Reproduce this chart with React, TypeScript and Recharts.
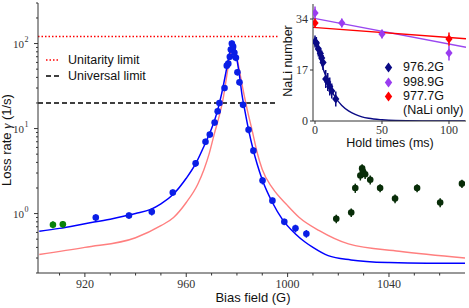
import React from 'react';
import {
  ComposedChart, Line, Scatter, XAxis, YAxis, ErrorBar, ReferenceLine,
} from 'recharts';

// main panel: loss rate vs bias field
const BLUE_X = [924.3, 937.4, 946.4, 954.7, 963.7, 967.6, 969.3, 971.2, 972.4, 973.1, 975.1, 976.0, 976.6, 977.2, 977.6, 978.0, 978.5, 979.0, 979.6, 980.2, 981.0, 982.4, 984.6, 986.5, 990.1, 994.0, 998.7, 1003.1, 1007.4];
const BLUE_Y = [0.9, 0.95, 1.05, 1.77, 3.9, 7.0, 8.5, 11.8, 16, 20, 30, 55, 58, 70, 85, 100, 92, 78, 68, 46, 35, 19, 9.7, 5.5, 2.45, 1.42, 0.8, 0.67, 0.58];
const BLUE_ERR = [0.08, 0.08, 0.1, 0.15, 0.35, 0.6, 0.7, 1, 1.3, 1.6, 2.5, 5, 5, 6, 7, 9, 8, 7, 6, 4, 3, 1.6, 0.9, 0.5, 0.25, 0.12, 0.07, 0.07, 0.06];

const GREEN_X = [907.4, 911.3];
const GREEN_Y = [0.74, 0.75];
const GREEN_ERR = [0.07, 0.07];

const DARK_X = [1019.2, 1025.1, 1026.7, 1028.7, 1029.4, 1029.8, 1030.6, 1032.6, 1036.5, 1042.4, 1051.1, 1060.2, 1068.8];
const DARK_Y = [0.87, 1.03, 2.0, 2.8, 3.4, 3.1, 2.9, 2.5, 2.0, 1.5, 2.0, 1.35, 2.25];
const DARK_ERR = [0.1, 0.12, 0.25, 0.35, 0.4, 0.35, 0.35, 0.3, 0.22, 0.18, 0.22, 0.16, 0.25];

const FIT_X = [902, 910, 920, 930, 940, 946, 950, 955, 960, 964, 967, 970, 972, 974, 976, 977, 978, 978.5, 979, 980, 981, 982, 983, 984.5, 986.5, 988, 990, 994, 998, 1003, 1007, 1010, 1016, 1025, 1040, 1055, 1070];
const FIT_Y = [0.62, 0.67, 0.76, 0.86, 1.0, 1.12, 1.3, 1.7, 2.6, 4.0, 6.2, 10, 15, 26, 52, 75, 98, 100, 92, 65, 42, 25, 17, 10, 5.5, 3.8, 2.5, 1.35, 0.85, 0.58, 0.46, 0.4, 0.32, 0.285, 0.265, 0.26, 0.26];

const PINK_X = [902, 920, 940, 950, 955, 960, 964.5, 967, 969, 971, 973, 974.5, 976, 977, 978, 978.5, 979, 980, 981, 982, 984, 986, 988, 990, 994, 1000, 1004.6, 1012.5, 1024, 1044, 1070];
const PINK_Y = [0.33, 0.4, 0.52, 0.72, 0.9, 1.35, 2.2, 3.3, 5, 8.5, 14, 22, 42, 65, 92, 98, 90, 68, 48, 33, 17, 9.5, 5.2, 3.3, 2.0, 1.24, 0.9, 0.63, 0.44, 0.36, 0.3];

const UNITARITY = 121;
const UNIVERSAL = 20;

const X_TICKS = [910, 920, 930, 940, 950, 960, 970, 980, 990, 1000, 1010, 1020, 1030, 1040, 1050, 1060];
const X_LABELS = [920, 960, 1000, 1040];
const Y_TICKS = [0.2, 0.3, 0.4, 0.5, 0.6, 0.7, 0.8, 0.9, 1, 2, 3, 4, 5, 6, 7, 8, 9, 10, 20, 30, 40, 50, 60, 70, 80, 90, 100, 200, 300];

// inset: NaLi number vs hold time
const NAVY_T = [0, 1, 2.5, 4, 5, 6, 8, 9.5, 11, 12.5, 15.5];
const NAVY_N = [26.5, 26, 24, 22.5, 21, 19.5, 14, 13, 11.5, 10, 7.3];
const NAVY_ERR = [2, 2, 2.5, 2, 2.5, 2.5, 3, 3, 3, 2.5, 2.5];
const PURPLE_T = [0, 20, 50, 100];
const PURPLE_N = [36, 32.7, 29, 22.7];
const PURPLE_ERR = [2.2, 1.5, 1.5, 2.5];
const RED_T = [0, 100];
const RED_N = [32.7, 27.3];
const RED_ERR = [1.5, 2.2];

const NAVY_FIT_T = [0, 2, 4, 6, 8, 10, 12, 15, 20, 25, 30, 35, 40, 50, 60, 80, 100, 112];
const NAVY_FIT_N = [27, 23.5, 20.5, 17.5, 15, 12.5, 10.5, 8, 5.2, 3.4, 2.2, 1.4, 0.9, 0.4, 0.15, 0.03, 0, 0];
const PURPLE_FIT_T = [-1.5, 112.7];
const PURPLE_FIT_N = [34.3, 24.6];
const RED_FIT_T = [-1.5, 112.7];
const RED_FIT_N = [31.2, 27.4];

const pts = (xs: number[], ys: number[], es?: number[]) =>
  xs.map((x, i) => ({ x, y: ys[i], e: es ? es[i] : 0 }));

const SERIF = '"Liberation Serif", "DejaVu Serif", serif';
const SANS = '"Liberation Sans", Arial, sans-serif';
const AX = '#333';

const LogTick = (props: any) => {
  const { x, y, payload } = props;
  const v = payload.value;
  const exp = Math.round(Math.log10(v));
  const major = Math.abs(v - Math.pow(10, exp)) < 1e-9;
  return (
    <g>
      <line x1={x} x2={x - (major ? 4 : 2)} y1={y} y2={y} stroke={AX} />
      {major && (
        <text x={x - 14} y={y + 4} textAnchor="end" fontFamily={SERIF} fontSize={11} fill={AX}>
          10
          <tspan x={x - 13.5} dy={-6} fontSize={8} textAnchor="start">{exp}</tspan>
        </text>
      )}
    </g>
  );
};

const XTick = (props: any) => {
  const { x, y, payload } = props;
  const major = X_LABELS.includes(payload.value);
  return (
    <g>
      <line x1={x} x2={x} y1={y} y2={y + (major ? 4 : 2.5)} stroke={AX} />
      {major && (
        <text x={x} y={y + 15} textAnchor="middle" fontFamily={SERIF} fontSize={12} fill={AX}>
          {payload.value}
        </text>
      )}
    </g>
  );
};

const InsetYTick = (props: any) => {
  const { x, y, payload } = props;
  return (
    <g>
      <line x1={x} x2={x - 3} y1={y} y2={y} stroke={AX} />
      <text x={x - 5} y={y + 4} textAnchor="end" fontFamily={SERIF} fontSize={12} fill={AX}>{payload.value}</text>
    </g>
  );
};

const InsetXTick = (props: any) => {
  const { x, y, payload } = props;
  return (
    <g>
      <line x1={x} x2={x} y1={y} y2={y + 3} stroke={AX} />
      <text x={x} y={y + 13} textAnchor="middle" fontFamily={SERIF} fontSize={12} fill={AX}>{payload.value}</text>
    </g>
  );
};

const Dot = (color: string) => (props: any) => (
  <circle cx={props.cx} cy={props.cy} r={3.3} fill={color} />
);

const Diamond = (color: string) => (props: any) => {
  const { cx, cy } = props;
  return <polygon points={`${cx},${cy - 4.5} ${cx + 3.6},${cy} ${cx},${cy + 4.5} ${cx - 3.6},${cy}`} fill={color} />;
};

const DiamondIcon = ({ color }: { color: string }) => (
  <svg width={9} height={11} style={{ display: 'block' }}>
    <polygon points="4.5,0.5 8.2,5.5 4.5,10.5 0.8,5.5" fill={color} />
  </svg>
);

const App: React.FC = () => {
  const main = { domainX: [901.5, 1070] as [number, number], domainY: [0.2, 300] as [number, number] };
  const legendRows = [
    { c: '#0a0a85', t: '976.2G', y: 67 },
    { c: '#9a3cf0', t: '998.9G', y: 82 },
    { c: '#ff0000', t: '977.7G', y: 96 },
  ];

  return (
    <div style={{ position: 'absolute', left: 0, top: 0, width: 469, height: 308, background: '#fff' }}>
      <ComposedChart width={469} height={308} margin={{ top: 3, right: 4, bottom: 0, left: 0 }}>
        <XAxis dataKey="x" type="number" domain={main.domainX} allowDataOverflow ticks={X_TICKS} interval={0}
          tick={<XTick />} tickLine={false} tickSize={0} tickMargin={0} height={35} stroke={AX} />
        <XAxis xAxisId="top" orientation="top" type="number" domain={main.domainX} allowDataOverflow
          tick={false} tickLine={false} height={0} stroke={AX} />
        <YAxis dataKey="y" scale="log" type="number" domain={main.domainY} allowDataOverflow ticks={Y_TICKS} interval={0}
          tick={<LogTick />} tickLine={false} tickSize={0} tickMargin={0} width={38} stroke={AX} />
        <YAxis yAxisId="right" orientation="right" type="number" domain={[0, 1]} tick={false} tickLine={false} width={0} stroke={AX} />
        <ReferenceLine y={UNITARITY} stroke="#ff0000" strokeDasharray="1.5 2" strokeWidth={1.3} />
        <ReferenceLine y={UNIVERSAL} stroke="#000" strokeDasharray="5 3" strokeWidth={1.3} />
        <Line data={pts(PINK_X, PINK_Y)} dataKey="y" type="monotone" stroke="#ff7f7f" strokeWidth={1.4} dot={false} isAnimationActive={false} />
        <Line data={pts(FIT_X, FIT_Y)} dataKey="y" type="monotone" stroke="#0000ff" strokeWidth={1.5} dot={false} isAnimationActive={false} />
        <Scatter data={pts(BLUE_X, BLUE_Y, BLUE_ERR)} dataKey="y" fill="#0a1ee6" shape={Dot('#0a1ee6')} isAnimationActive={false}>
          <ErrorBar dataKey="e" direction="y" width={0} stroke="#0a1ee6" strokeWidth={1.5} />
        </Scatter>
        <Scatter data={pts(GREEN_X, GREEN_Y, GREEN_ERR)} dataKey="y" fill="#0a820a" shape={Dot('#0a820a')} isAnimationActive={false}>
          <ErrorBar dataKey="e" direction="y" width={0} stroke="#0a820a" strokeWidth={1.5} />
        </Scatter>
        <Scatter data={pts(DARK_X, DARK_Y, DARK_ERR)} dataKey="y" fill="#082d08" shape={Dot('#082d08')} isAnimationActive={false}>
          <ErrorBar dataKey="e" direction="y" width={0} stroke="#082d08" strokeWidth={1.5} />
        </Scatter>
      </ComposedChart>

      {/* main legend */}
      <svg style={{ position: 'absolute', left: 44, top: 54 }} width={20} height={28}>
        <line x1={2} x2={16} y1={6} y2={6} stroke="#ff0000" strokeDasharray="1.5 2" strokeWidth={1.3} />
        <line x1={2} x2={16} y1={22} y2={22} stroke="#000" strokeDasharray="5 3" strokeWidth={1.3} />
      </svg>
      <div style={{ position: 'absolute', left: 68, top: 52, fontFamily: SANS, fontSize: 12.5, color: '#111', lineHeight: '16px' }}>
        <div>Unitarity limit</div>
        <div>Universal limit</div>
      </div>

      {/* axis titles */}
      <div style={{ position: 'absolute', left: 253, top: 297, transform: 'translate(-50%,-50%)', fontFamily: SANS, fontSize: 13, whiteSpace: 'nowrap', color: '#111' }}>
        Bias field (G)
      </div>
      <div style={{ position: 'absolute', left: 7, top: 140, transform: 'translate(-50%,-50%) rotate(-90deg)', fontFamily: SANS, fontSize: 13, whiteSpace: 'nowrap', color: '#111' }}>
        Loss rate <span style={{ fontFamily: SERIF, fontStyle: 'italic' }}>γ</span> (1/s)
      </div>

      {/* inset */}
      <div style={{ position: 'absolute', left: 278, top: 4, width: 191, height: 146, background: '#fff' }}>
        <ComposedChart width={191} height={146} margin={{ top: 0, right: 3, bottom: 0, left: 0 }}>
          <XAxis dataKey="x" type="number" domain={[-1.5, 112.7]} allowDataOverflow ticks={[0, 50, 100]} interval={0}
            tick={<InsetXTick />} tickLine={false} tickSize={0} tickMargin={0} height={29} stroke={AX} />
          <XAxis xAxisId="top" orientation="top" type="number" domain={[-1.5, 112.7]} tick={false} tickLine={false} height={0} stroke={AX} />
          <YAxis dataKey="y" type="number" domain={[0, 39]} allowDataOverflow ticks={[0, 17, 34]} interval={0}
            tick={<InsetYTick />} tickLine={false} tickSize={0} tickMargin={0} width={35} stroke={AX} />
          <YAxis yAxisId="right" orientation="right" type="number" domain={[0, 1]} tick={false} tickLine={false} width={0} stroke={AX} />
          <Line data={pts(NAVY_FIT_T, NAVY_FIT_N)} dataKey="y" type="monotone" stroke="#0a0a85" strokeWidth={1.4} dot={false} isAnimationActive={false} />
          <Line data={pts(PURPLE_FIT_T, PURPLE_FIT_N)} dataKey="y" type="linear" stroke="#9a48f0" strokeWidth={1.4} dot={false} isAnimationActive={false} />
          <Line data={pts(RED_FIT_T, RED_FIT_N)} dataKey="y" type="linear" stroke="#ff0000" strokeWidth={1.4} dot={false} isAnimationActive={false} />
          <Scatter data={pts(NAVY_T, NAVY_N, NAVY_ERR)} dataKey="y" fill="#0a0a85" shape={Diamond('#0a0a85')} isAnimationActive={false}>
            <ErrorBar dataKey="e" direction="y" width={0} stroke="#0a0a85" strokeWidth={1.5} />
          </Scatter>
          <Scatter data={pts(PURPLE_T, PURPLE_N, PURPLE_ERR)} dataKey="y" fill="#9a3cf0" shape={Diamond('#9a3cf0')} isAnimationActive={false}>
            <ErrorBar dataKey="e" direction="y" width={0} stroke="#9a3cf0" strokeWidth={1.5} />
          </Scatter>
          <Scatter data={pts(RED_T, RED_N, RED_ERR)} dataKey="y" fill="#ff0000" shape={Diamond('#ff0000')} isAnimationActive={false}>
            <ErrorBar dataKey="e" direction="y" width={0} stroke="#ff0000" strokeWidth={1.5} />
          </Scatter>
        </ComposedChart>
      </div>
      {legendRows.map((r) => (
        <div key={r.t} style={{ position: 'absolute', left: 384, top: r.y - 7, display: 'flex', alignItems: 'center', fontFamily: SANS, fontSize: 12.5, color: '#111', lineHeight: '14px' }}>
          <DiamondIcon color={r.c} />
          <span style={{ marginLeft: 10 }}>{r.t}</span>
        </div>
      ))}
      <div style={{ position: 'absolute', left: 403, top: 103, fontFamily: SANS, fontSize: 12.5, color: '#111', lineHeight: '14px' }}>
        (NaLi only)
      </div>
      <div style={{ position: 'absolute', left: 288, top: 61, transform: 'translate(-50%,-50%) rotate(-90deg)', fontFamily: SANS, fontSize: 12.5, whiteSpace: 'nowrap', color: '#111' }}>
        NaLi number
      </div>
      <div style={{ position: 'absolute', left: 390, top: 143, transform: 'translate(-50%,-50%)', fontFamily: SANS, fontSize: 12.5, whiteSpace: 'nowrap', color: '#111' }}>
        Hold times (ms)
      </div>
    </div>
  );
};

export default App;
